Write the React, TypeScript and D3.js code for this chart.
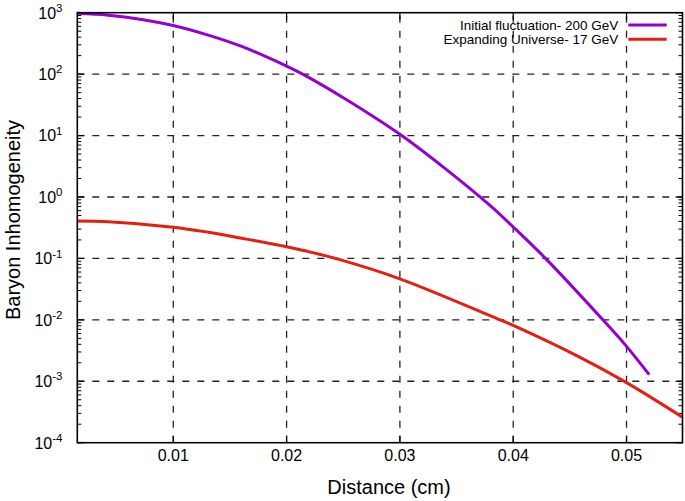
import React from "react";
import * as d3 from "d3";

const W = 685;
const H = 501;

// Distance (cm)
const purpleX = [0.00153, 0.00426, 0.00721, 0.0100, 0.01309, 0.01604, 0.0200, 0.02162, 0.02515, 0.0300, 0.0340, 0.03795, 0.0400, 0.04289, 0.04781, 0.0500, 0.0520];
const purpleY = [977, 912, 776, 617, 432, 282, 135, 95.5, 39.8, 10.5, 2.9, 0.73, 0.325, 0.0984, 0.0105, 0.0037, 0.00128];

const redX = [0.00153, 0.00426, 0.0100, 0.01309, 0.01604, 0.0200, 0.02162, 0.0247, 0.0300, 0.03883, 0.0400, 0.0459, 0.0500, 0.0549];
const redY = [0.405, 0.395, 0.323, 0.267, 0.213, 0.155, 0.133, 0.0955, 0.0465, 0.0100, 0.0081, 0.00245, 0.00095, 0.000263];

const xTicks = [0.01, 0.02, 0.03, 0.04, 0.05];
const xTickLabels = ["0.01", "0.02", "0.03", "0.04", "0.05"];
const yExponents = [3, 2, 1, 0, -1, -2, -3, -4];

const seriesNames = ["Initial fluctuation- 200 GeV", "Expanding Universe- 17 GeV"];
const seriesColors = ["#9400d3", "#e51e10"];

const left = 77.3;
const right = 682.5;
const top = 12.7;
const bottom = 442.7;

export default function App() {
  const x = d3.scaleLinear().domain([0.00153, 0.05494]).range([left, right]);
  const y = d3.scaleLog().domain([1e-4, 1e3]).range([bottom, top]);

  const line = d3
    .line<[number, number]>()
    .x((d) => x(d[0]))
    .y((d) => y(d[1]))
    .curve(d3.curveCatmullRom.alpha(0.5));

  const purple: [number, number][] = purpleX.map((v, i) => [v, purpleY[i]]);
  const red: [number, number][] = redX.map((v, i) => [v, redY[i]]);

  const minor: number[] = [];
  for (let e = -4; e < 3; e++) {
    for (let m = 2; m <= 9; m++) minor.push(m * Math.pow(10, e));
  }

  const font = "Liberation Sans, Arial, Helvetica, sans-serif";
  const gridStyle = { stroke: "#222", strokeWidth: 1.3, strokeDasharray: "7,8" };

  return (
    <svg
      width={W}
      height={H}
      style={{ position: "absolute", left: 0, top: 0, background: "#fff" }}
      fontFamily={font}
    >
      <rect x={0} y={0} width={W} height={H} fill="#fff" />
      {xTicks.map((t) => (
        <line key={"gx" + t} x1={x(t)} x2={x(t)} y1={bottom} y2={top} style={gridStyle} />
      ))}
      {yExponents.slice(1, -1).map((e) => (
        <line key={"gy" + e} x1={left} x2={right} y1={y(Math.pow(10, e))} y2={y(Math.pow(10, e))} style={gridStyle} />
      ))}
      {minor.map((v) => (
        <g key={"m" + v}>
          <line x1={left} x2={left + 4} y1={y(v)} y2={y(v)} stroke="#000" strokeWidth={1} />
          <line x1={right} x2={right - 4} y1={y(v)} y2={y(v)} stroke="#000" strokeWidth={1} />
        </g>
      ))}
      {yExponents.map((e) => (
        <g key={"my" + e}>
          <line x1={left} x2={left + 7} y1={y(Math.pow(10, e))} y2={y(Math.pow(10, e))} stroke="#000" strokeWidth={1.2} />
          <line x1={right} x2={right - 7} y1={y(Math.pow(10, e))} y2={y(Math.pow(10, e))} stroke="#000" strokeWidth={1.2} />
          <text x={62.5} y={y(Math.pow(10, e)) + 5.8} textAnchor="end" fontSize={16} fill="#000">
            10
            <tspan dy={-6.7} fontSize={11.5}>
              {e < 0 ? "-" + Math.abs(e) : String(e)}
            </tspan>
          </text>
        </g>
      ))}
      {xTicks.map((t, i) => (
        <g key={"tx" + t}>
          <line x1={x(t)} x2={x(t)} y1={bottom} y2={bottom - 7} stroke="#000" strokeWidth={1.2} />
          <line x1={x(t)} x2={x(t)} y1={top} y2={top + 7} stroke="#000" strokeWidth={1.2} />
          <text x={x(t)} y={461} textAnchor="middle" fontSize={16} fill="#000">
            {xTickLabels[i]}
          </text>
        </g>
      ))}
      <path d={line(purple) || ""} fill="none" stroke={seriesColors[0]} strokeWidth={3} />
      <path d={line(red) || ""} fill="none" stroke={seriesColors[1]} strokeWidth={3} />
      <rect x={left} y={top} width={right - left} height={bottom - top} fill="none" stroke="#000" strokeWidth={1.6} />
      {seriesNames.map((n, i) => (
        <g key={n}>
          <text x={618.3} y={25 + i * 14.3 + 4.8} textAnchor="end" fontSize={13.5} fill="#000">
            {n}
          </text>
          <line x1={628.3} x2={666.7} y1={25 + i * 14.3} y2={25 + i * 14.3} stroke={seriesColors[i]} strokeWidth={3} />
        </g>
      ))}
      <text x={389} y={494} textAnchor="middle" fontSize={20} fill="#000">
        Distance (cm)
      </text>
      <text transform={`translate(20,220) rotate(-90)`} textAnchor="middle" fontSize={20} fill="#000">
        Baryon Inhomogeneity
      </text>
    </svg>
  );
}
